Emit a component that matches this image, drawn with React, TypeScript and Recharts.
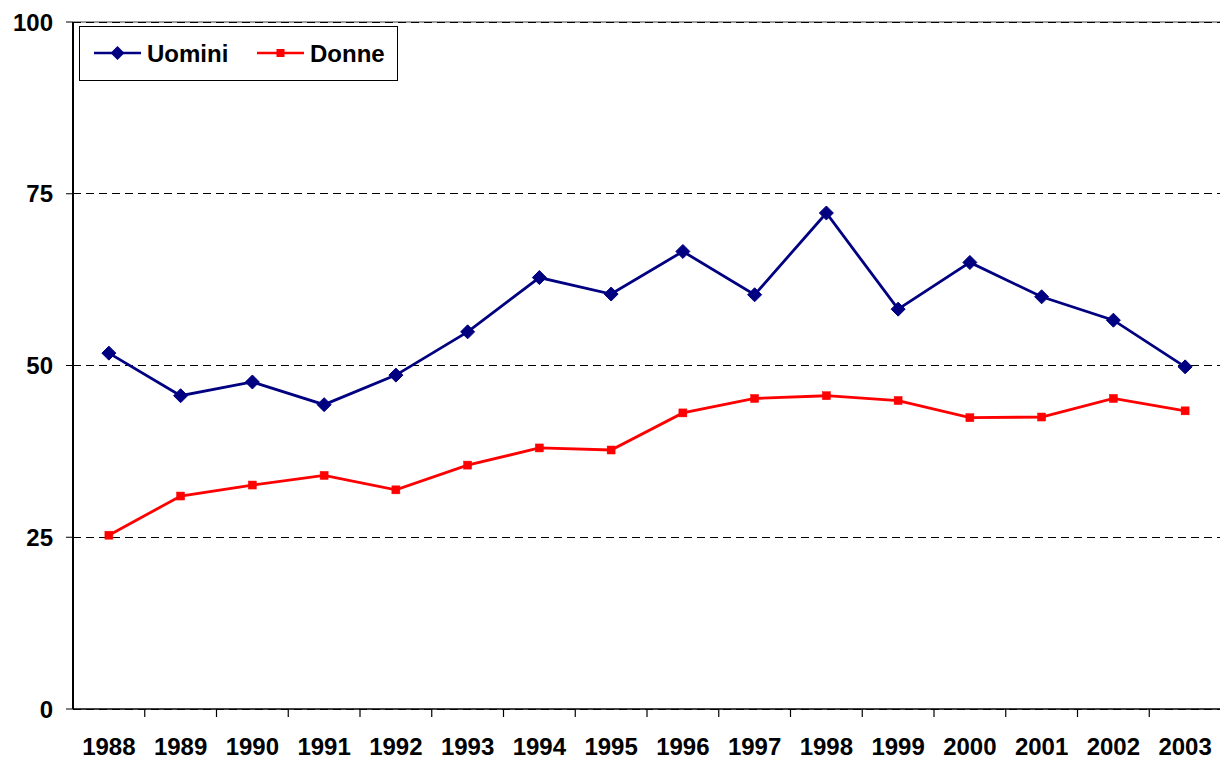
import React from "react";
import {
  LineChart,
  Line,
  XAxis,
  YAxis,
  CartesianGrid,
  Legend,
  ReferenceLine,
} from "recharts";

const years = ["1988", "1989", "1990", "1991", "1992", "1993", "1994", "1995", "1996", "1997", "1998", "1999", "2000", "2001", "2002", "2003"];
const uomini = [51.8, 45.6, 47.6, 44.3, 48.6, 54.9, 62.8, 60.4, 66.6, 60.3, 72.2, 58.2, 65.0, 60.0, 56.6, 49.8];
const donne = [25.3, 31.0, 32.6, 34.0, 31.9, 35.5, 38.0, 37.7, 43.1, 45.2, 45.6, 44.9, 42.4, 42.5, 45.2, 43.4];
const yTicks = [0, 25, 50, 75, 100];

const data = years.map((y, i) => ({ year: y, Uomini: uomini[i], Donne: donne[i] }));

const W = 1220;
const H = 760;
const LEFT = 73;
const RIGHT = -1;
const FONT = "'Liberation Sans', Arial, Helvetica, sans-serif";
const NAVY = "#000080";
const RED = "#FF0000";
const BAND = (W - LEFT - RIGHT) / years.length;

const Diamond = (props: any) => {
  const { cx, cy } = props;
  if (cx == null || cy == null) return null;
  const r = 7;
  return (
    <polygon
      points={`${cx},${cy - r} ${cx + r},${cy} ${cx},${cy + r} ${cx - r},${cy}`}
      fill={NAVY}
      stroke={NAVY}
      strokeWidth={1}
    />
  );
};

const Square = (props: any) => {
  const { cx, cy } = props;
  if (cx == null || cy == null) return null;
  const s = 8;
  return <rect x={cx - s / 2} y={cy - s / 2} width={s} height={s} fill={RED} stroke={RED} strokeWidth={0.5} />;
};

const XTick = (props: any) => {
  const { x, y, payload, index } = props;
  const bx = x - BAND / 2;
  return (
    <g>
      {index > 0 && <line x1={bx} y1={y - 8} x2={bx} y2={y} stroke="#000" strokeWidth={1.2} />}
      <text
        x={x}
        y={y + 38}
        textAnchor="middle"
        fontFamily={FONT}
        fontSize={24}
        fontWeight="bold"
        fill="#000"
      >
        {payload.value}
      </text>
    </g>
  );
};

const LegendBox = () => (
  <div
    style={{
      width: 319,
      height: 55,
      border: "1px solid #000",
      background: "#fff",
      boxSizing: "border-box",
    }}
  >
    <svg width={317} height={53} style={{ display: "block" }}>
      <line x1={14} y1={26} x2={61} y2={26} stroke={NAVY} strokeWidth={2.5} />
      <polygon points="37.5,19 44.5,26 37.5,33 30.5,26" fill={NAVY} />
      <text x={67} y={34.5} fontFamily={FONT} fontSize={24} fontWeight="bold" fill="#000">
        Uomini
      </text>
      <line x1={177} y1={26} x2={224} y2={26} stroke={RED} strokeWidth={2.5} />
      <rect x={196.5} y={22} width={8} height={8} fill={RED} />
      <text x={230} y={34.5} fontFamily={FONT} fontSize={24} fontWeight="bold" fill="#000">
        Donne
      </text>
    </svg>
  </div>
);

export default function App() {
  return (
    <div style={{ position: "absolute", left: 0, top: 0, width: W, height: H, background: "#fff" }}>
      <LineChart
        width={W}
        height={H}
        data={data}
        margin={{ top: 22, right: RIGHT, bottom: 0, left: 0 }}
      >
        <CartesianGrid
          horizontal={true}
          vertical={false}
          stroke="#000"
          strokeDasharray="8 5"
          strokeWidth={1}
          shapeRendering="crispEdges"
        />
        <ReferenceLine y={100} stroke="#808080" strokeWidth={1.5} ifOverflow="extendDomain" />
        <ReferenceLine y={100} stroke="#000" strokeDasharray="8 5" strokeWidth={1} shapeRendering="crispEdges" />
        <XAxis
          dataKey="year"
          scale="band"
          height={51}
          interval={0}
          tickSize={8}
          tickMargin={0}
          tickLine={false}
          axisLine={{ stroke: "#000", strokeWidth: 1.5 }}
          tick={<XTick />}
        />
        <YAxis
          width={LEFT}
          domain={[0, 100]}
          ticks={yTicks}
          interval={0}
          tickSize={7}
          tickMargin={13}
          tickLine={{ stroke: "#000", strokeWidth: 1 }}
          axisLine={{ stroke: "#000", strokeWidth: 2 }}
          tick={{ fontFamily: FONT, fontSize: 24, fontWeight: "bold", fill: "#000" }}
        />
        <Legend
          layout="horizontal"
          verticalAlign="middle"
          align="center"
          content={<LegendBox />}
          wrapperStyle={{ position: "absolute", left: 79, top: 26, width: 319, height: 55 }}
        />
        <Line
          type="linear"
          dataKey="Uomini"
          stroke={NAVY}
          strokeWidth={2.8}
          dot={<Diamond />}
          activeDot={false}
          isAnimationActive={false}
        />
        <Line
          type="linear"
          dataKey="Donne"
          stroke={RED}
          strokeWidth={2.8}
          dot={<Square />}
          activeDot={false}
          isAnimationActive={false}
        />
      </LineChart>
    </div>
  );
}
